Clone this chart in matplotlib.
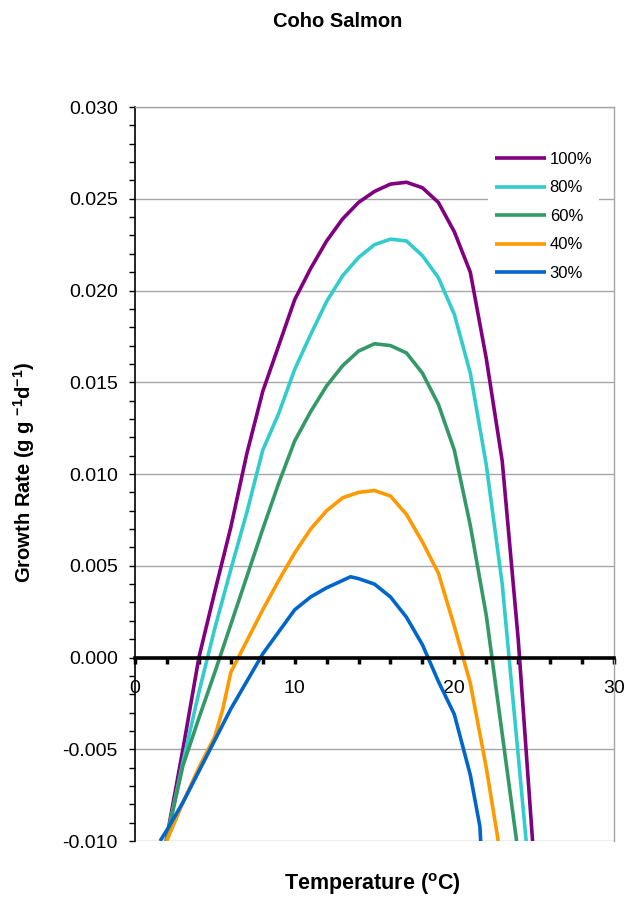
import matplotlib
matplotlib.use("Agg")
import matplotlib.pyplot as plt
from matplotlib.ticker import MultipleLocator


OUT_PATH = "out.png"

TITLE = "Coho Salmon"
X_LABEL = r"Temperature ($\mathbf{^{o}}$C)"
Y_LABEL = r"Growth Rate (g g $\mathbf{^{-1}}$d$\mathbf{^{-1}}$)"

SERIES_LABELS = ["100%", "80%", "60%", "40%", "30%"]
SERIES_COLORS = ["#800080", "#33CCCC", "#339966", "#FF9900", "#0066CC"]

# temperatures (C) and growth rates (g g-1 d-1)
temp_100 = [1.95, 3, 4, 5, 6, 7, 8, 9, 10, 11, 12, 13, 14, 15, 16, 17, 18, 19, 20, 21, 22, 23, 24, 24.9]
rate_100 = [-0.0100, -0.0050, 0.0000, 0.0036, 0.0071, 0.0111, 0.0145, 0.0170, 0.0195, 0.0212, 0.0227,
            0.0239, 0.0248, 0.0254, 0.0258, 0.0259, 0.0256, 0.0248, 0.0232, 0.0210, 0.0163, 0.0107,
            0.0010, -0.0100]

temp_80 = [1.95, 3, 4, 5, 6, 7, 8, 9, 10, 11, 12, 13, 14, 15, 16, 17, 18, 19, 20, 21, 22, 23, 24.5]
rate_80 = [-0.0100, -0.0057, -0.0019, 0.0016, 0.0048, 0.0079, 0.0113, 0.0133, 0.0157, 0.0176, 0.0194,
           0.0208, 0.0218, 0.0225, 0.0228, 0.0227, 0.0219, 0.0207, 0.0187, 0.0155, 0.0105, 0.0040,
           -0.0100]

temp_60 = [1.95, 3, 4, 5, 6, 7, 8, 9, 10, 11, 12, 13, 14, 15, 16, 17, 18, 19, 20, 21, 22, 23.9]
rate_60 = [-0.0100, -0.0059, -0.0033, -0.0008, 0.0018, 0.0044, 0.0070, 0.0095, 0.0118, 0.0134, 0.0148,
           0.0159, 0.0167, 0.0171, 0.0170, 0.0166, 0.0155, 0.0138, 0.0113, 0.0072, 0.0023, -0.0100]

temp_40 = [1.98, 3, 4, 5, 5.5, 6, 7, 8, 9, 10, 11, 12, 13, 14, 15, 16, 17, 18, 19, 20, 21, 22, 22.75]
rate_40 = [-0.0100, -0.0079, -0.0060, -0.0043, -0.0028, -0.0008, 0.0009, 0.0026, 0.0042, 0.0057, 0.0070,
           0.0080, 0.0087, 0.0090, 0.0091, 0.0088, 0.0078, 0.0063, 0.0046, 0.0017, -0.0014, -0.0060,
           -0.0100]

temp_30 = [1.57, 2, 3, 4, 5, 6, 7, 8, 9, 10, 11, 12, 13, 13.5, 14, 15, 16, 17, 18, 19, 20, 21, 21.6, 21.65]
rate_30 = [-0.0100, -0.0094, -0.0079, -0.0062, -0.0045, -0.0028, -0.0013, 0.0002, 0.0014, 0.0026, 0.0033,
           0.0038, 0.0042, 0.0044, 0.0043, 0.0040, 0.0033, 0.0022, 0.0007, -0.0013, -0.0031, -0.0064,
           -0.0092, -0.0100]


def main():
    plt.rcParams["font.family"] = ["Liberation Sans", "DejaVu Sans"]
    plt.rcParams["mathtext.fontset"] = "custom"
    plt.rcParams["mathtext.rm"] = "Liberation Sans"
    plt.rcParams["mathtext.bf"] = "Liberation Sans:bold"

    fig = plt.figure(figsize=(6.36, 8.97), dpi=100)
    ax = fig.add_axes([0.2123, 0.0624, 0.7531, 0.8183])

    temps = [temp_100, temp_80, temp_60, temp_40, temp_30]
    rates = [rate_100, rate_80, rate_60, rate_40, rate_30]
    for t, r, label, color in zip(temps, rates, SERIES_LABELS, SERIES_COLORS):
        ax.plot(t, r, color=color, lw=2.6, label=label, solid_capstyle="butt", zorder=3)

    ax.set_xlim(0, 30)
    ax.set_ylim(-0.010, 0.030)

    # y axis: major 0.005, minor 0.001
    ax.yaxis.set_major_locator(MultipleLocator(0.005))
    ax.yaxis.set_minor_locator(MultipleLocator(0.001))
    ax.yaxis.set_major_formatter(plt.FuncFormatter(lambda v, p: f"{v:.3f}"))
    ax.grid(axis="y", which="major", color="#A6A6A6", lw=1.0, zorder=0)
    ax.tick_params(axis="y", which="both", direction="out", length=4, width=1, labelsize=14, pad=8.5)

    # x axis sits on zero
    ax.spines["bottom"].set_position(("data", 0))
    ax.spines["bottom"].set_linewidth(2.6)
    ax.spines["bottom"].set_zorder(4)
    ax.xaxis.set_major_locator(MultipleLocator(10))
    ax.xaxis.set_minor_locator(MultipleLocator(2))
    ax.tick_params(axis="x", which="both", direction="out", length=4, width=2.5, labelsize=14, pad=12)

    ax.spines["left"].set_linewidth(1.2)
    for side in ["top", "right"]:
        ax.spines[side].set_color("#A6A6A6")
        ax.spines[side].set_linewidth(1.0)

    leg = ax.legend(loc="upper left", bbox_to_anchor=(0.737, 0.948), borderaxespad=0,
                    frameon=True, fancybox=False, edgecolor="none", facecolor="white", framealpha=1,
                    fontsize=12, handlelength=3.1, handletextpad=0.2, labelspacing=0.81, borderpad=0.4)
    leg.set_zorder(2)

    fig.text(0.531, 0.976, TITLE, ha="center", va="center", fontsize=14.5, fontweight="bold")
    fig.text(0.585, 0.014, X_LABEL, ha="center", va="center", fontsize=15.5, fontweight="bold")
    fig.text(0.038, 0.473, Y_LABEL, ha="center", va="center", rotation=90, fontsize=14.5,
             fontweight="bold")

    fig.savefig(OUT_PATH, dpi=100)


if __name__ == "__main__":
    main()
